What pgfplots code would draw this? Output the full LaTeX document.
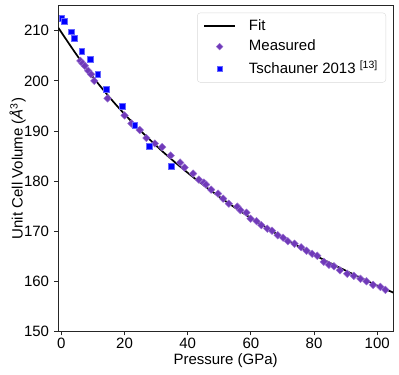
\documentclass[border=0pt]{standalone}
\usepackage{pgfplots}
\pgfplotsset{compat=1.18}
\usepackage{fontspec}
\setmainfont{Liberation Sans}
\definecolor{meas}{RGB}{112,58,185}
\definecolor{measedge}{RGB}{155,115,210}
\begin{document}
\fontsize{15}{17}\selectfont
\begin{tikzpicture}
\begin{axis}[name=ax, scale only axis, width=335pt, height=326pt,
 xmin=-1, xmax=105, ymin=150, ymax=215,
 xtick={0,20,...,100}, ytick={150,160,...,210},
 tick align=outside, xtick pos=bottom, ytick pos=left,
 major tick length=4pt,
 axis line style={black!85, line width=0.8pt},
 every tick/.style={black!85, line width=0.8pt},
 /pgf/number format/assume math mode=true,
 tick label style={font=\fontsize{15}{17}\selectfont},
 xticklabel style={yshift=2.5pt},
 label style={font=\fontsize{15}{17}\selectfont},
 xlabel={Pressure (GPa)},
 ylabel={Unit Cell Volume (\textit{Å}\textsuperscript{3})},
 every axis x label/.style={at={(axis description cs:0.5,-0.09)}, anchor=center},
 every axis y label/.style={at={(axis description cs:-0.121,0.5)}, anchor=center, rotate=90},
 legend style={at={(1,1)}, xshift=-7pt, yshift=-7pt, anchor=north east,
   draw=black!15, rounded corners=3pt, font=\fontsize{15}{17}\selectfont,
   row sep=3.6pt, inner xsep=6pt, inner ysep=4.5pt,
   /tikz/every odd column/.append style={column sep=11pt}},
 legend cell align=left,
]
\addplot[black, line width=1.7pt, smooth,
  legend image code/.code={\draw[black, line width=1.7pt] (0pt,0pt) -- (31pt,0pt);}]
 coordinates {(-0.98,210.6)(5.04,205)(10.95,200)(17.61,195)(25.15,190)(33.66,185)(43.31,180)(54.26,175)(66.70,170)(80.88,165)(97.08,160)(106.03,157.5)};
\addlegendentry{Fit}
\addplot[only marks, mark=square*, mark size=2.7pt,
  mark options={rotate=45, fill=meas, draw=measedge, line width=0.4pt},
  legend image code/.code={\draw[mark options={rotate=45, fill=meas, draw=measedge, line width=0.4pt}] plot[mark=square*, mark size=2.4pt] coordinates {(15.5pt,0pt)};}]
 coordinates {
 (6.0,204.0)(6.7,203.5)(7.4,203.0)(8.5,202.0)(9.4,201.3)(10.4,200.0)
 (14.6,196.5)(20.0,193.1)(22.2,191.5)(24.8,190.2)(26.9,188.6)(29.6,187.5)
 (31.9,186.8)(34.6,185.1)(37.6,183.7)(39.0,182.7)(41.7,181.5)(43.5,180.3)
 (45.1,179.7)(45.8,179.3)(47.4,178.3)(49.6,177.5)(51.2,176.5)(53.0,175.5)
 (55.7,174.9)(56.7,174.2)(58.6,173.7)(59.9,172.5)(61.8,172.0)(63.3,171.2)
 (65.2,170.5)(66.7,170.1)(68.5,169.2)(70.2,168.7)(71.7,168.0)(73.8,167.5)
 (75.9,166.8)(77.6,166.1)(79.4,165.5)(81.0,165.1)(83.1,163.9)(84.7,163.3)
 (86.3,163.0)(88.2,162.2)(90.5,161.5)(92.6,161.1)(94.7,160.5)(96.6,160.0)
 (98.7,159.3)(101.0,158.9)(102.6,158.3)};
\addlegendentry{Measured}
\addplot[only marks, mark=square*, mark size=2.9pt,
  mark options={fill=blue, draw=blue!60!white, line width=0.4pt},
  legend image code/.code={\draw[mark options={fill=blue, draw=blue!60!white, line width=0.4pt}] plot[mark=square*, mark size=2.6pt] coordinates {(15.5pt,0pt)};}]
 coordinates {
 (0.1,212.5)(1.0,211.9)(3.1,209.8)(4.1,208.5)(6.4,205.9)(9.1,204.3)
 (11.5,201.3)(14.3,198.4)(19.2,195.0)(23.2,191.1)(27.8,187.0)(34.8,183.0)};
\addlegendentry{Tschauner 2013 \textsuperscript{[13]}}
\end{axis}
\path (ax.south west) ++(-58.3pt,-43.3pt) coordinate (bl);
\path (ax.north east) ++(6pt,5.7pt) coordinate (tr);
\end{tikzpicture}
\end{document}
